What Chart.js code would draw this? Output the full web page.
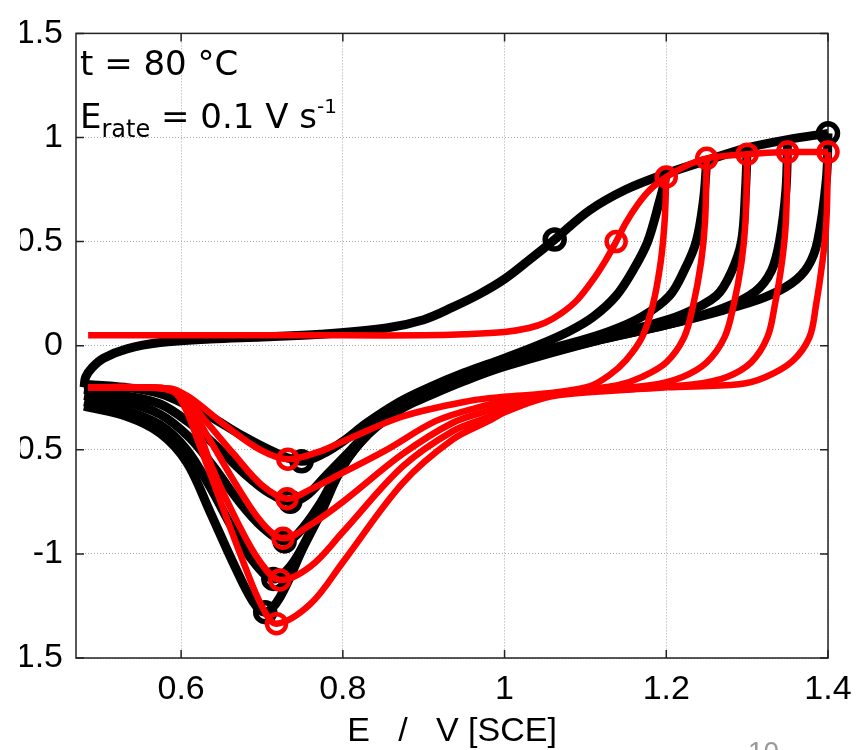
<!DOCTYPE html>
<html>
<head>
<meta charset="utf-8">
<script src="https://cdn.jsdelivr.net/npm/chart.js@4.4.0/dist/chart.umd.min.js"></script>
<style>
  html, body { margin: 0; padding: 0; background: #fff; overflow: hidden; }
  body { width: 863px; height: 750px; position: relative; }
  #wrap { position: absolute; left: 20px; top: 0; width: 843px; height: 750px; }
  .note { position: absolute; font-family: 'DejaVu Sans', sans-serif; font-size: 34px; line-height: 34px; color: #000; white-space: pre; }
  .note .sub { font-size: 24px; position: relative; top: 9px; }
  .note .sup { font-size: 20px; position: relative; top: -15px; }
  #page { position: absolute; left: 748px; top: 738px; font-family: 'Liberation Sans', Arial, sans-serif; font-size: 28px; line-height: 28px; color: #999; }
</style>
</head>
<body>
<div id="wrap"><canvas id="cv" width="843" height="750"></canvas></div>
<div class="note" style="left:80px; top:46px;">t = 80 °C</div>
<div class="note" style="left:80px; top:99px;">E<span class="sub">rate</span> = 0.1 V s<span class="sup">-1</span></div>
<div id="page">10</div>
<script>
// axis ticks and their labels
const xTicks = [0.6, 0.8, 1.0, 1.2, 1.4];
const xTickLabels = ['0.6', '0.8', '1', '1.2', '1.4'];
const yTicks = [-1.5, -1, -0.5, 0, 0.5, 1, 1.5];
const yTickLabels = ['-1.5', '-1', '-0.5', '0', '0.5', '1', '1.5'];

// --- measured (black): anodic sweep, shared by all cycles ---
const blackFwd = [[0.48,-0.2],[0.482,-0.15],[0.49,-0.105],[0.504,-0.06],[0.533,-0.015],[0.574,0.015],[0.636,0.032],
  [0.7,0.042],[0.772,0.055],[0.854,0.085],[0.9,0.125],[0.936,0.185],[0.97,0.25],[1.0,0.32],[1.03,0.41],[1.062,0.51],
  [1.105,0.65],[1.15,0.75],[1.195,0.82],[1.25,0.89],[1.3,0.95],[1.35,0.99],[1.4,1.02]];

// measured cathodic sweeps, one per vertex potential
const blackRev120 = [[1.2,0.82],[1.192,0.7],[1.177,0.5],[1.16,0.37],[1.138,0.24],[1.11,0.14],[1.08,0.07],[1.04,0.0],
  [1.0,-0.06],[0.95,-0.13],[0.907,-0.2],[0.87,-0.27],[0.83,-0.37],[0.8,-0.46],[0.775,-0.52],[0.749,-0.555],
  [0.718,-0.516],[0.677,-0.435],[0.636,-0.34],[0.61,-0.29],[0.574,-0.23],[0.53,-0.2],[0.48,-0.185]];
const blackRev125 = [[1.25,0.89],[1.246,0.7],[1.237,0.5],[1.222,0.36],[1.204,0.24],[1.17,0.14],[1.13,0.07],[1.08,0.01],
  [1.0,-0.07],[0.95,-0.14],[0.907,-0.21],[0.87,-0.28],[0.84,-0.38],[0.81,-0.5],[0.78,-0.62],[0.755,-0.72],[0.735,-0.75],
  [0.71,-0.71],[0.68,-0.62],[0.64,-0.47],[0.61,-0.37],[0.574,-0.28],[0.53,-0.24],[0.48,-0.21]];
const blackRev130 = [[1.3,0.95],[1.298,0.75],[1.293,0.5],[1.28,0.35],[1.262,0.24],[1.22,0.15],[1.17,0.09],[1.1,0.02],
  [1.0,-0.08],[0.95,-0.15],[0.907,-0.22],[0.87,-0.29],[0.845,-0.37],[0.82,-0.47],[0.795,-0.6],[0.77,-0.77],[0.745,-0.9],
  [0.728,-0.94],[0.7,-0.87],[0.67,-0.74],[0.64,-0.58],[0.61,-0.44],[0.574,-0.33],[0.53,-0.27],[0.48,-0.24]];
const blackRev135 = [[1.35,0.99],[1.348,0.75],[1.34,0.5],[1.33,0.36],[1.31,0.26],[1.27,0.18],[1.2,0.1],[1.12,0.03],
  [1.0,-0.09],[0.95,-0.16],[0.907,-0.23],[0.87,-0.3],[0.84,-0.39],[0.81,-0.52],[0.78,-0.72],[0.755,-0.93],[0.735,-1.06],
  [0.714,-1.12],[0.69,-1.04],[0.664,-0.88],[0.636,-0.68],[0.607,-0.5],[0.574,-0.38],[0.53,-0.31],[0.48,-0.27]];
const blackRev140 = [[1.4,1.02],[1.398,0.8],[1.387,0.5],[1.375,0.38],[1.355,0.3],[1.32,0.23],[1.27,0.17],[1.2,0.1],
  [1.12,0.03],[1.0,-0.1],[0.95,-0.17],[0.907,-0.24],[0.874,-0.3],[0.833,-0.42],[0.8,-0.58],[0.772,-0.81],[0.751,-0.97],
  [0.722,-1.21],[0.704,-1.28],[0.689,-1.23],[0.664,-1.04],[0.636,-0.8],[0.607,-0.56],[0.574,-0.42],[0.533,-0.34],[0.48,-0.29]];

// --- simulated (red) ---
const redFwd = [[0.485,0.05],[0.6,0.05],[0.8,0.05],[0.9,0.05],[0.95,0.055],[1.0,0.066],[1.03,0.085],[1.05,0.11],
  [1.07,0.155],[1.09,0.22],[1.11,0.32],[1.125,0.41],[1.138,0.5],[1.15,0.59],[1.165,0.68],[1.18,0.75],[1.2,0.81],
  [1.225,0.865],[1.25,0.9],[1.3,0.92],[1.35,0.93],[1.4,0.93]];
const redRev120 = [[1.2,0.81],[1.198,0.6],[1.193,0.4],[1.183,0.19],[1.17,0.04],[1.15,-0.07],[1.13,-0.14],[1.105,-0.195],
  [1.05,-0.23],[1.0,-0.245],[0.957,-0.265],[0.874,-0.34],[0.8,-0.46],[0.77,-0.51],[0.732,-0.545],[0.698,-0.5],
  [0.657,-0.39],[0.615,-0.26],[0.595,-0.215],[0.587,-0.205],[0.55,-0.2],[0.485,-0.2]];
const redRev125 = [[1.25,0.9],[1.248,0.6],[1.243,0.4],[1.233,0.19],[1.222,0.04],[1.2,-0.08],[1.17,-0.15],[1.14,-0.19],
  [1.1,-0.21],[1.05,-0.235],[1.0,-0.265],[0.973,-0.29],[0.916,-0.36],[0.854,-0.5],[0.8,-0.61],[0.76,-0.69],[0.731,-0.735],
  [0.7,-0.67],[0.665,-0.52],[0.63,-0.36],[0.605,-0.25],[0.587,-0.21],[0.55,-0.2],[0.485,-0.2]];
const redRev130 = [[1.3,0.92],[1.298,0.6],[1.293,0.4],[1.283,0.19],[1.272,0.04],[1.25,-0.08],[1.22,-0.15],[1.18,-0.19],
  [1.1,-0.215],[1.05,-0.24],[1.0,-0.28],[0.981,-0.31],[0.936,-0.37],[0.874,-0.52],[0.8,-0.75],[0.76,-0.86],[0.726,-0.925],
  [0.7,-0.85],[0.67,-0.68],[0.635,-0.45],[0.61,-0.29],[0.59,-0.215],[0.55,-0.2],[0.485,-0.2]];
const redRev135 = [[1.35,0.93],[1.348,0.6],[1.343,0.4],[1.334,0.19],[1.325,0.04],[1.305,-0.08],[1.275,-0.15],[1.235,-0.185],
  [1.15,-0.21],[1.1,-0.22],[1.05,-0.245],[1.0,-0.3],[0.981,-0.34],[0.936,-0.41],[0.874,-0.58],[0.8,-0.895],[0.76,-1.06],
  [0.722,-1.125],[0.698,-1.04],[0.67,-0.85],[0.64,-0.6],[0.615,-0.35],[0.592,-0.22],[0.55,-0.2],[0.485,-0.2]];
const redRev140 = [[1.4,0.93],[1.398,0.6],[1.393,0.4],[1.385,0.19],[1.377,0.04],[1.356,-0.074],[1.323,-0.15],[1.29,-0.185],
  [1.2,-0.2],[1.1,-0.225],[1.05,-0.25],[1.0,-0.32],[0.981,-0.36],[0.936,-0.45],[0.874,-0.66],[0.8,-1.04],[0.76,-1.24],
  [0.718,-1.335],[0.701,-1.26],[0.677,-1.04],[0.646,-0.72],[0.623,-0.48],[0.605,-0.3],[0.59,-0.22],[0.55,-0.2],[0.485,-0.2]];

// circle markers (peaks / vertices)
const blackMarks = [[1.062,0.51],[1.4,1.02],[0.749,-0.555],[0.735,-0.75],[0.728,-0.94],[0.714,-1.12],[0.704,-1.28]];
const redMarks = [[1.138,0.5],[1.2,0.81],[1.25,0.9],[1.3,0.92],[1.35,0.93],[1.4,0.93],
  [0.732,-0.545],[0.731,-0.735],[0.726,-0.925],[0.722,-1.125],[0.718,-1.335]];

const pts = arr => arr.map(p => ({ x: p[0], y: p[1] }));

const curve = (arr, color, width, order) => ({
  data: pts(arr),
  showLine: true,
  borderColor: color,
  borderWidth: width,
  pointRadius: 0,
  tension: 0.35,
  fill: false,
  clip: false,
  order: order,
});

const marks = (arr, color, width, order) => ({
  data: pts(arr),
  showLine: false,
  pointStyle: 'circle',
  pointRadius: 9.5,
  pointBorderWidth: width,
  pointBorderColor: color,
  pointBackgroundColor: 'rgba(0,0,0,0)',
  clip: false,
  order: order,
});

const RED = '#ff0000';
const BLACK = '#000000';

const datasets = [
  marks(redMarks, RED, 4.5, 0),
  curve(redFwd, RED, 6.5, 1),
  curve(redRev120, RED, 6.5, 1),
  curve(redRev125, RED, 6.5, 1),
  curve(redRev130, RED, 6.5, 1),
  curve(redRev135, RED, 6.5, 1),
  curve(redRev140, RED, 6.5, 1),
  marks(blackMarks, BLACK, 5.5, 2),
  curve(blackFwd, BLACK, 9, 3),
  curve(blackRev120, BLACK, 9, 3),
  curve(blackRev125, BLACK, 9, 3),
  curve(blackRev130, BLACK, 9, 3),
  curve(blackRev135, BLACK, 9, 3),
  curve(blackRev140, BLACK, 9, 3),
];

// box around the plot and inward tick marks on all four sides
const framePlugin = {
  id: 'frame',
  beforeDatasetsDraw(chart) {
    const { ctx, chartArea: a, scales } = chart;
    ctx.save();
    ctx.strokeStyle = '#222';
    ctx.lineWidth = 1.5;
    ctx.beginPath();
    xTicks.forEach(v => {
      const px = scales.x.getPixelForValue(v);
      ctx.moveTo(px, a.bottom); ctx.lineTo(px, a.bottom - 8);
      ctx.moveTo(px, a.top); ctx.lineTo(px, a.top + 8);
    });
    yTicks.forEach(v => {
      const py = scales.y.getPixelForValue(v);
      ctx.moveTo(a.left, py); ctx.lineTo(a.left + 8, py);
      ctx.moveTo(a.right, py); ctx.lineTo(a.right - 8, py);
    });
    ctx.stroke();
    ctx.strokeRect(a.left, a.top, a.right - a.left, a.bottom - a.top);
    ctx.restore();
  }
};

const tickFont = { family: "'Liberation Sans', Arial, sans-serif", size: 34 };

new Chart(document.getElementById('cv'), {
  type: 'scatter',
  data: { datasets },
  options: {
    responsive: false,
    animation: false,
    layout: { padding: { left: 0, top: 24, right: 35, bottom: 0 } },
    plugins: { legend: { display: false }, tooltip: { enabled: false } },
    scales: {
      x: {
        type: 'linear',
        min: 0.47,
        max: 1.4,
        afterFit: s => { s.height = 92; },
        afterBuildTicks: s => { s.ticks = xTicks.map(v => ({ value: v })); },
        grid: { color: '#a8a8a8', lineWidth: 1, drawTicks: false },
        border: { display: false, dash: [1, 2] },
        ticks: {
          color: '#000', font: tickFont, padding: 11, maxRotation: 0,
          callback: (v, i) => xTickLabels[i],
        },
        title: {
          display: true,
          text: 'E   /   V [SCE]',
          color: '#000',
          font: { family: "'Liberation Sans', Arial, sans-serif", size: 34, lineHeight: 1 },
          padding: { top: 0, bottom: 1 },
        },
      },
      y: {
        type: 'linear',
        min: -1.5,
        max: 1.5,
        afterFit: s => { s.width = 56; },
        afterBuildTicks: s => { s.ticks = yTicks.map(v => ({ value: v })); },
        grid: { color: '#a8a8a8', lineWidth: 1, drawTicks: false },
        border: { display: false, dash: [1, 2] },
        ticks: {
          color: '#000', font: tickFont, padding: 13,
          callback: (v, i) => yTickLabels[i],
        },
      },
    },
  },
  plugins: [framePlugin],
});
</script>
</body>
</html>
